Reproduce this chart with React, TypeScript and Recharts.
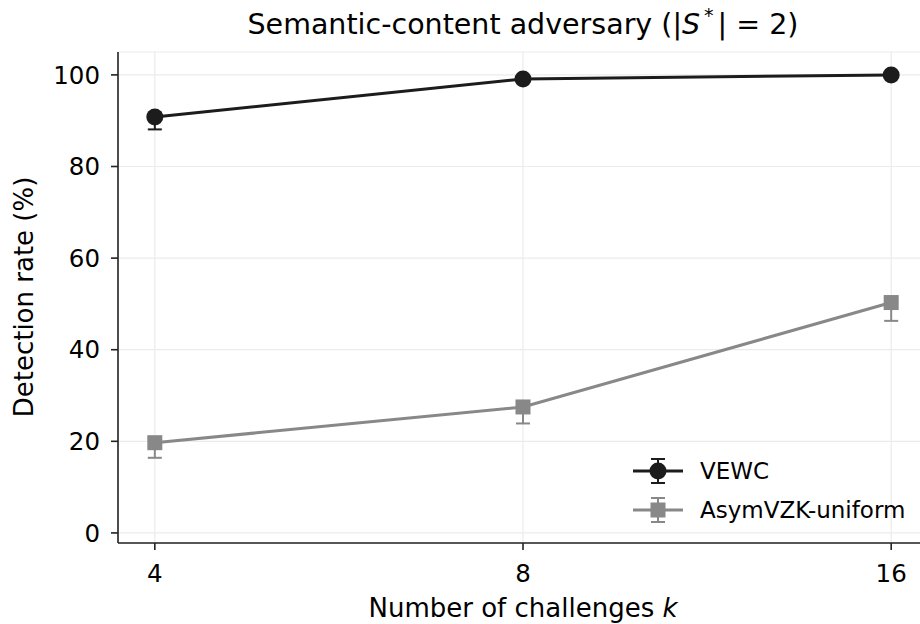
import React from 'react';
import { LineChart, Line, XAxis, YAxis, CartesianGrid, ErrorBar, Label } from 'recharts';

const kValues = [4, 8, 16];
const vewcRate = [90.8, 99.1, 100.0];
const vewcErrLow = [2.7, 0, 0];
const vewcErrHigh = [1.0, 0, 0];
const asymRate = [19.7, 27.5, 50.3];
const asymErrLow = [3.3, 3.6, 4.0];
const asymErrHigh = [1.0, 1.0, 1.0];
const yTicks = [0, 20, 40, 60, 80, 100];

const DARK = '#1c1c1c';
const GRAY = '#888888';
const FONT = '"DejaVu Sans", sans-serif';

const data = kValues.map((k, i) => ({
  k,
  vewc: vewcRate[i],
  vewcErr: [vewcErrLow[i], vewcErrHigh[i]],
  asym: asymRate[i],
  asymErr: [asymErrLow[i], asymErrHigh[i]],
}));

const legendItems = [
  { name: 'VEWC', color: DARK, shape: 'circle' },
  { name: 'AsymVZK-uniform', color: GRAY, shape: 'square' },
];

const CircleDot = (props: any) => {
  const { cx, cy, index } = props;
  if (cx == null || cy == null) return null;
  return <circle key={`c-${index}`} cx={cx} cy={cy} r={8.5} fill={DARK} />;
};

const SquareDot = (props: any) => {
  const { cx, cy, index } = props;
  if (cx == null || cy == null) return null;
  return <rect key={`s-${index}`} x={cx - 7.5} y={cy - 7.5} width={15} height={15} fill={GRAY} />;
};

// legend drawn as an overlay so it does not take room from the plot
const LegendBox = () => (
  <svg width={290} height={84} style={{ position: 'absolute', left: 628, top: 450 }}>
    {legendItems.map((item, i) => {
      const y = 21 + i * 39;
      return (
        <g key={item.name}>
          <line x1={5} x2={55} y1={y} y2={y} stroke={item.color} strokeWidth={3} />
          <line x1={30} x2={30} y1={y - 12} y2={y + 12} stroke={item.color} strokeWidth={2} />
          <line x1={23} x2={37} y1={y - 12} y2={y - 12} stroke={item.color} strokeWidth={2} />
          <line x1={23} x2={37} y1={y + 12} y2={y + 12} stroke={item.color} strokeWidth={2} />
          {item.shape === 'circle' ? (
            <circle cx={30} cy={y} r={8.5} fill={item.color} />
          ) : (
            <rect x={22.5} y={y - 7.5} width={15} height={15} fill={item.color} />
          )}
          <text x={72} y={y} dy="0.36em" fontSize={23} fontFamily={FONT} fill="#000">
            {item.name}
          </text>
        </g>
      );
    })}
  </svg>
);

const App: React.FC = () => {
  return (
    <div style={{ position: 'absolute', left: 0, top: 0, width: 920, height: 624, overflow: 'hidden', background: '#fff' }}>
      <div
        style={{
          position: 'absolute',
          left: 118,
          width: 810,
          top: 7,
          textAlign: 'center',
          fontFamily: FONT,
          fontSize: 28.5,
          lineHeight: '36px',
          color: '#000',
          zIndex: 2,
        }}
      >
        Semantic-content adversary (|<i>S</i>
        <span style={{ fontSize: 19, position: 'relative', top: -12, marginLeft: 4, marginRight: 4 }}>*</span>| = 2)
      </div>
      <LineChart
        width={940}
        height={624}
        data={data}
        margin={{ top: 52, right: 12, bottom: 41, left: 58 }}
        style={{ fontFamily: FONT }}
      >
        <CartesianGrid stroke="#ebebeb" strokeWidth={1.2} />
        <XAxis
          dataKey="k"
          type="number"
          scale="log"
          domain={[Math.pow(2, 1.9), Math.pow(2, 4.1)]}
          ticks={kValues}
          allowDataOverflow
          height={40}
          stroke="#222"
          strokeWidth={1.6}
          tickSize={7}
          tickMargin={15}
          tick={{ fill: '#000', fontSize: 24.5, fontFamily: FONT }}
        >
          <Label
            value="Number of challenges k"
            content={() => (
              <text x={523} y={617} textAnchor="middle" fontSize={26} fontFamily={FONT} fill="#000">
                Number of challenges <tspan fontStyle="italic">k</tspan>
              </text>
            )}
          />
        </XAxis>
        <YAxis
          type="number"
          domain={[-2.2, 105]}
          ticks={yTicks}
          allowDataOverflow
          width={60}
          stroke="#222"
          strokeWidth={1.6}
          tickSize={7}
          tickMargin={11}
          tick={{ fill: '#000', fontSize: 24.5, fontFamily: FONT }}
        >
          <Label
            value="Detection rate (%)"
            content={() => (
              <text
                x={33}
                y={297}
                textAnchor="middle"
                fontSize={26}
                fontFamily={FONT}
                fill="#000"
                transform="rotate(-90 33 297)"
              >
                Detection rate (%)
              </text>
            )}
          />
        </YAxis>
        <Line
          dataKey="vewc"
          name="VEWC"
          stroke={DARK}
          strokeWidth={3}
          dot={CircleDot}
          activeDot={false}
          isAnimationActive={false}
        >
          <ErrorBar dataKey="vewcErr" direction="y" width={7} stroke={DARK} strokeWidth={2} />
        </Line>
        <Line
          dataKey="asym"
          name="AsymVZK-uniform"
          stroke={GRAY}
          strokeWidth={3}
          dot={SquareDot}
          activeDot={false}
          isAnimationActive={false}
        >
          <ErrorBar dataKey="asymErr" direction="y" width={7} stroke={GRAY} strokeWidth={2} />
        </Line>
      </LineChart>
      <LegendBox />
    </div>
  );
};

export default App;
